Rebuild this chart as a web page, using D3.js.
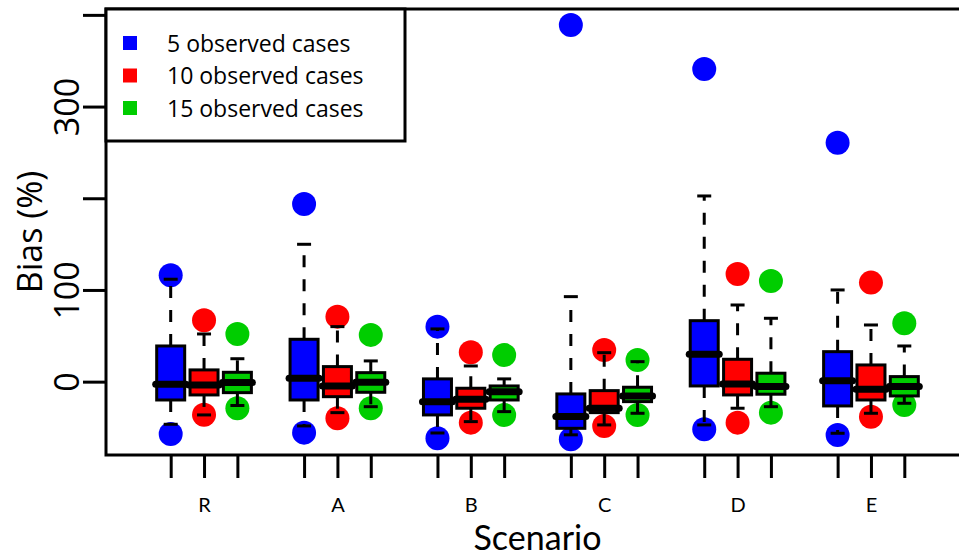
<!DOCTYPE html>
<html>
<head>
<meta charset="utf-8">
<script src="https://cdn.jsdelivr.net/npm/d3@7"></script>
<style>
  body { margin: 0; background: #fff; }
  svg { display: block; font-family: "Open Sans", sans-serif; }
</style>
</head>
<body>
<div id="chart"></div>
<script>
// Scenarios and series
const categories = ["R", "A", "B", "C", "D", "E"];
const seriesNames = ["5 observed cases", "10 observed cases", "15 observed cases"];
const seriesColors = ["#0000ff", "#ff0000", "#00cd00"];

// Box statistics, [scenario][series]
const whiskerLow = [[-46.5, -36.3, -26], [-48.3, -33.8, -27.3], [-56, -43.6, -32.7], [-58, -47.2, -34.5], [-47.2, -29, -27.3], [-56.3, -34.5, -23.6]];
const q1 = [[-20, -14.5, -12], [-20, -16.4, -11.6], [-36.3, -29, -20], [-50.9, -33.8, -21.8], [-4.7, -14.5, -13.7], [-26.5, -20, -15.6]];
const medians = [[-2.8, -3.6, -1], [3.7, -4.7, -0.7], [-21.8, -19.2, -10.9], [-38.1, -29, -15.6], [29.9, -2.5, -5.4], [1.1, -8.3, -5.4]];
const q3 = [[38.9, 12.8, 10.2], [46.2, 16.4, 9.8], [3, -7.2, -4.7], [-13.4, -9.8, -6.1], [66.5, 24.4, 9.2], [32.7, 18.2, 5.5]];
const whiskerHigh = [[111.7, 52, 25], [149.8, 60, 22.6], [57.5, 17.1, 3], [92.7, 31.6, 21.8], [202.5, 83.6, 69.1], [100, 61.8, 38.9]];
// Extreme points drawn as filled circles
const pointLow = [[-57, -36, -29], [-55.6, -40, -29], [-61.7, -44.7, -36.3], [-62.8, -48.3, -36.3], [-51.9, -44.7, -33.8], [-58.1, -38.2, -25.4]];
const pointHigh = [[116, 67, 52], [193.8, 70.9, 51], [60, 32, 29], [389, 34.6, 23.7], [341, 117.4, 109.8], [260.6, 108, 63.7]];

const yTicks = [0, 100, 200, 300, 400];
const yTickLabels = ["0", "100", "", "300", ""];

const W = 959, H = 558;
const plot = { left: 106, top: 9, bottom: 455, right: 969 };

const svg = d3.select("#chart").append("svg")
  .attr("width", W).attr("height", H);

const y = d3.scaleLinear().domain([-80, 406.4]).range([plot.bottom, plot.top]);
// box positions 1..23 (groups of three, one empty slot between groups)
const x = d3.scaleLinear().domain([-0.94, 24.94]).range([plot.left, plot.right]);

// flatten to one record per box
const boxes = [];
categories.forEach((c, ci) => {
  seriesNames.forEach((s, si) => {
    boxes.push({
      cat: c, si, pos: ci * 4 + si + 1,
      lw: whiskerLow[ci][si], q1: q1[ci][si], med: medians[ci][si],
      q3: q3[ci][si], uw: whiskerHigh[ci][si],
      pLow: pointLow[ci][si], pHigh: pointHigh[ci][si]
    });
  });
});

const boxW = 28, capW = 14;

// points first, boxes drawn over them
const pts = svg.append("g");
boxes.forEach(b => {
  [b.pLow, b.pHigh].forEach(v => {
    pts.append("circle")
      .attr("cx", x(b.pos)).attr("cy", y(v)).attr("r", 12)
      .attr("fill", seriesColors[b.si]);
  });
});

const g = svg.selectAll(".box").data(boxes).enter().append("g").attr("class", "box");

// dashed whiskers
g.append("line")
  .attr("x1", d => x(d.pos)).attr("x2", d => x(d.pos))
  .attr("y1", d => y(d.q3)).attr("y2", d => y(d.uw))
  .attr("stroke", "#000").attr("stroke-width", 3).attr("stroke-dasharray", "12,12");
g.append("line")
  .attr("x1", d => x(d.pos)).attr("x2", d => x(d.pos))
  .attr("y1", d => y(d.q1)).attr("y2", d => y(d.lw))
  .attr("stroke", "#000").attr("stroke-width", 3).attr("stroke-dasharray", "12,12");
// staples
["uw", "lw"].forEach(k => {
  g.append("line")
    .attr("x1", d => x(d.pos) - capW / 2).attr("x2", d => x(d.pos) + capW / 2)
    .attr("y1", d => y(d[k])).attr("y2", d => y(d[k]))
    .attr("stroke", "#000").attr("stroke-width", 3);
});
// boxes
g.append("rect")
  .attr("x", d => x(d.pos) - boxW / 2).attr("width", boxW)
  .attr("y", d => y(d.q3)).attr("height", d => y(d.q1) - y(d.q3))
  .attr("fill", d => seriesColors[d.si])
  .attr("stroke", "#000").attr("stroke-width", 3);
// medians
g.append("line")
  .attr("x1", d => x(d.pos) - boxW / 2 - 1).attr("x2", d => x(d.pos) + boxW / 2 + 1)
  .attr("y1", d => y(d.med)).attr("y2", d => y(d.med))
  .attr("stroke", "#000").attr("stroke-width", 7).attr("stroke-linecap", "round");

// frame
svg.append("rect")
  .attr("x", plot.left).attr("y", plot.top)
  .attr("width", plot.right - plot.left).attr("height", plot.bottom - plot.top)
  .attr("fill", "none").attr("stroke", "#000").attr("stroke-width", 3);

// y axis
const yAxis = svg.append("g")
  .attr("transform", `translate(${plot.left},0)`)
  .call(d3.axisLeft(y).tickValues(yTicks).tickSize(23).tickFormat((d, i) => yTickLabels[i]));
yAxis.select(".domain").remove();
yAxis.selectAll(".tick line").attr("stroke-width", 3);
yAxis.selectAll(".tick text")
  .attr("x", null).attr("dy", null)
  .attr("text-anchor", "middle")
  .attr("transform", "translate(-27,0) rotate(-90)")
  .attr("font-size", 34).attr("font-family", "Open Sans").attr("fill", "#000");

// x axis: a tick under each box, label under the middle one
const positions = boxes.map(b => b.pos);
const xAxis = svg.append("g")
  .attr("transform", `translate(0,${plot.bottom})`)
  .call(d3.axisBottom(x).tickValues(positions).tickSize(23)
    .tickFormat(d => (d % 4 === 2 ? categories[(d - 2) / 4] : "")));
xAxis.select(".domain").remove();
xAxis.selectAll(".tick line").attr("stroke-width", 3);
xAxis.selectAll(".tick text")
  .attr("y", 57).attr("dy", null)
  .attr("font-size", 20).attr("font-family", "Lato").attr("fill", "#000");

// axis titles
svg.append("text")
  .attr("x", x(12)).attr("y", 550)
  .attr("text-anchor", "middle").attr("font-size", 34).attr("font-family", "Lato")
  .text("Scenario");
svg.append("text")
  .attr("transform", `translate(42,${(plot.top + plot.bottom) / 2}) rotate(-90)`)
  .attr("text-anchor", "middle").attr("font-size", 34)
  .text("Bias (%)");

// legend
const leg = svg.append("g");
leg.append("rect")
  .attr("x", 106).attr("y", 9).attr("width", 299).attr("height", 132)
  .attr("fill", "#fff").attr("stroke", "#000").attr("stroke-width", 3);
seriesNames.forEach((s, i) => {
  const cy = 43 + i * 32.5;
  leg.append("rect")
    .attr("x", 123).attr("y", cy - 7).attr("width", 14).attr("height", 14)
    .attr("fill", seriesColors[i]);
  leg.append("text")
    .attr("x", 167).attr("y", cy + 8.5)
    .attr("font-size", 23)
    .text(s);
});
</script>
</body>
</html>
